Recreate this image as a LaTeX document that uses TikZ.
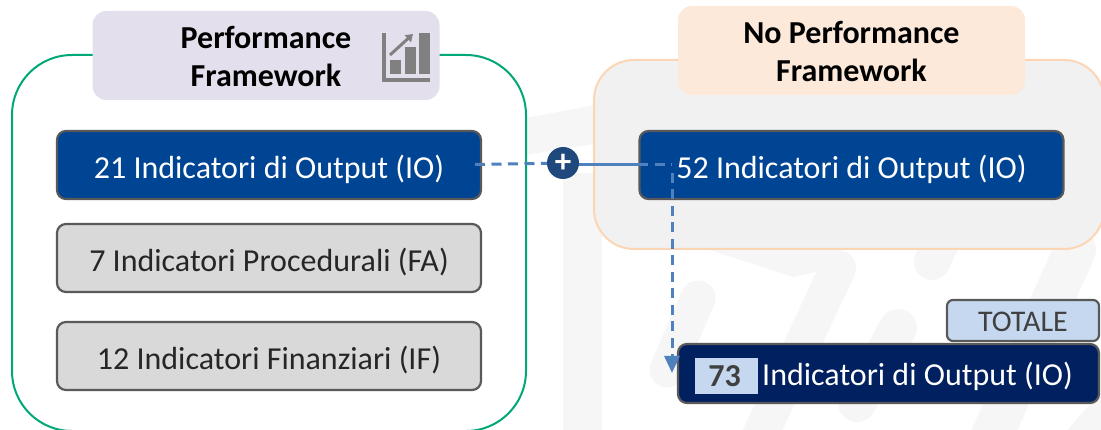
\documentclass[tikz,border=0pt]{standalone}
\usepackage{fontspec}
\setmainfont{Carlito}
\usetikzlibrary{arrows.meta}
\definecolor{wm}{HTML}{F6F6F6}
\definecolor{blueA}{HTML}{004494}
\definecolor{navy}{HTML}{002060}
\definecolor{edge}{HTML}{595959}
\definecolor{greyF}{HTML}{D9D9D9}
\definecolor{lblue}{HTML}{C5D8F0}
\definecolor{lnk}{HTML}{4F81BD}
\definecolor{frameG}{HTML}{00A878}
\definecolor{frameO}{HTML}{FCD5B5}
\definecolor{panel}{HTML}{F1F1F1}
\definecolor{hdrA}{HTML}{E4DFEC}
\definecolor{hdrB}{HTML}{FCE9DA}
\definecolor{icon}{HTML}{808080}
\definecolor{plusF}{HTML}{1F497D}
\definecolor{txt}{HTML}{404040}
\tikzset{
 x=1pt,y=-1pt,
 ibox/.style={draw=edge,line width=2.2pt,rounded corners=9pt,minimum height=68pt,minimum width=424pt,inner sep=0pt,text height=34pt,text depth=7pt,font=\fontsize{32}{36}\selectfont},
 whitebox/.style={ibox,fill=blueA,text=white},
 greybox/.style={ibox,fill=greyF,text=black!85},
 hdr/.style={rounded corners=14pt,minimum height=89pt,minimum width=347pt,inner sep=0pt},
 hdrtext/.style={inner sep=0pt,font=\fontsize{32}{38}\selectfont\bfseries,align=center},
 lnkd/.style={draw=lnk,line width=3pt,dash pattern=on 10pt off 6.5pt},
 wmbar/.style={draw=wm,line cap=round},
 iconbar/.style={fill=icon}
}
\begin{document}
\begin{tikzpicture}
\useasboundingbox (0,0) rectangle (1101,430);
\clip (0,0) rectangle (1101,430);
% watermark
\fill[wm] (526,118) -- (600,104) -- (600,143) -- (526,155) -- cycle;
\fill[wm] (563,173) rectangle (602,430);
\draw[wmbar,line width=35pt] (698,298) -- (667,370);
\draw[wmbar,line width=38pt] (898,328) -- (857,403);
\draw[wmbar,line width=36pt] (945,235) -- (932,262);
\draw[wmbar,line width=36pt] (838,268) -- (758,440);
\fill[wm] (710,250) -- (793,277) -- (825,270) -- (840,250) -- cycle;
\draw[wmbar,line width=42pt] (1075,250) -- (990,440);
\draw[wmbar,line width=38pt] (1110,410) -- (1075,450);
% frames
\draw[draw=frameG,line width=2pt,rounded corners=60pt,fill=white] (12,55) rectangle (526,431);
\draw[draw=frameO,fill=panel,line width=2pt,rounded corners=40pt] (594,60) rectangle (1104,249);
% headers
\node[hdr,fill=hdrA] (pf) at (266,55.5) {};
\node[hdrtext] (pft) at (266,56.5) {Performance\\Framework};
\node[hdr,fill=hdrB] (npf) at (851.5,50.5) {};
\node[hdrtext] (npft) at (851.5,51.5) {No Performance\\Framework};
% icon
\fill[iconbar] (382,33) rectangle (386,82);
\fill[iconbar] (382,78) rectangle (430,82);
\fill[iconbar] (390,60) rectangle (401,74);
\fill[iconbar] (405,47) rectangle (416,74);
\fill[iconbar] (419,33) rectangle (430,74);
\draw[icon,line width=3pt,-{Triangle[open,fill=icon,length=7pt,width=9pt]}] (390,55) -- (413,34);
% boxes
\node[whitebox] (io21) at (269,165) {21 Indicatori di Output (IO)};
\node[greybox] (fa) at (269,258) {7 Indicatori Procedurali (FA)};
\node[greybox] (if) at (269,356) {12 Indicatori Finanziari (IF)};
\node[whitebox] (io52) at (851.5,165) {52 Indicatori di Output (IO)};
\node[draw=edge,line width=2.2pt,rounded corners=6pt,fill=lblue,minimum width=152pt,minimum height=41pt,inner sep=0pt,text height=30pt,text depth=7pt,font=\fontsize{30}{32}\selectfont,text=txt] (tot) at (1023,320.5) {TOTALE};
\node[ibox,fill=navy,minimum width=421pt,minimum height=59pt] (sum) at (888.5,373.5) {};
\node[fill=lblue,minimum width=63pt,minimum height=35pt,inner sep=0pt,text height=29pt,text depth=7pt,font=\fontsize{32}{32}\selectfont\bfseries,text=txt] (n73) at (726.5,376) {\hspace*{-4pt}73};
\node[inner sep=0pt,text=white,font=\fontsize{32}{36}\selectfont,anchor=base west] (sumt) at (762,386) {Indicatori di Output (IO)};
% connectors
\coordinate (ds) at (475,164.5);
\coordinate (dt) at (672,164.5);
\coordinate (dv) at (672,173);
\coordinate (ae) at (672,373);
\node[circle,fill=plusF,minimum size=32pt,inner sep=0pt,text=white,font=\fontsize{33}{33}\selectfont\bfseries] (plus) at (563,163) {+};
\draw[lnkd] (ds) -- (plus);
\draw[lnk,line width=3pt] (plus.east |- ds) -- (io52.west |- ds);
\draw[lnkd] (io52.west |- ds) -- (dt);
\draw[lnkd,-{Triangle[length=17pt,width=15pt,fill=lnk]}] (dv) -- (ae);
\end{tikzpicture}
\end{document}
